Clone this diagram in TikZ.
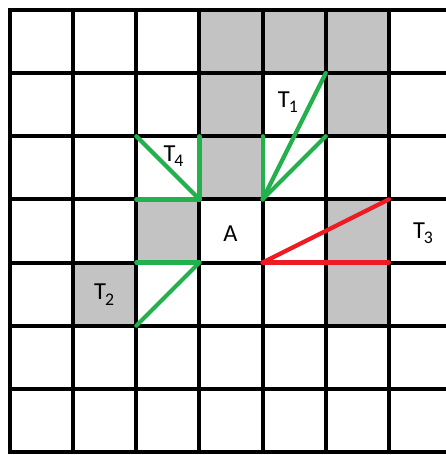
\documentclass[tikz,border=0pt]{standalone}
\usepackage{fontspec}
\setmainfont{Carlito}
\definecolor{cellGray} {HTML}{C3C3C3}
\definecolor{lineGreen}{HTML}{22B14C}
\definecolor{lineRed}  {HTML}{ED1C24}
\newcommand{\tname}[1]{T\kern-0.5pt\raisebox{-0.45ex}{\fontsize{8}{9}\selectfont #1}}
\tikzset{
  gridline/.style={draw=black,line width=1.8pt,line cap=rect},
  shadecell/.style={fill=cellGray,draw=none},
  greenray/.style={draw=lineGreen,line width=1.9pt,line cap=round},
  redray/.style={draw=lineRed,line width=1.9pt,line cap=round},
  lbl/.style={font=\fontsize{11}{13}\selectfont,inner sep=0pt,text=black},
}
\begin{document}
\begin{tikzpicture}[x=1cm,y=1cm]

\useasboundingbox (-0.159,-0.048) rectangle (6.889,7.158);
\fill[white] (-0.159,-0.048) rectangle (6.889,7.158);

\foreach \c/\r in {3/6,4/6,5/6,3/5,5/5,3/4,2/3,5/3,1/2,5/2}
  \fill[shadecell] (\c,\r) rectangle ++(1,1);

\foreach \r in {0,...,7}
  \draw[gridline] (0,\r) -- (7.2,\r);
\foreach \c in {0,...,6}
  \draw[gridline] (\c,0) -- (\c,7);

% apexes and ends
\coordinate (apex1) at (4,4);
\coordinate (end1a) at (5,6);
\coordinate (end1b) at (5,5);
\coordinate (end1c) at (4,5);
\coordinate (apex4) at (3,4);
\coordinate (end4a) at (2,5);
\coordinate (end4b) at (3,5);
\coordinate (end4c) at (2,4);
\coordinate (apex2) at (3,3);
\coordinate (end2a) at (2,3);
\coordinate (end2b) at (2,2);
\coordinate (apex3) at (4,3);
\coordinate (end3a) at (6,4);
\coordinate (end3b) at (6,3);

\draw[greenray] (apex1) -- (end1a);
\draw[greenray] (apex1) -- (end1b);
\draw[greenray] (apex1) -- (end1c);
\draw[greenray] (apex4) -- (end4a);
\draw[greenray] (apex4) -- (end4b);
\draw[greenray] (apex4) -- (end4c);
\draw[greenray] (apex2) -- (end2a);
\draw[greenray] (apex2) -- (end2b);
\draw[redray] (apex3) -- (end3a);
\draw[redray] (apex3) -- (end3b);

\node[lbl] (labA) at (3.49,3.45) {A};
\node[lbl] (labT1) at (4.40,5.54) {\tname{1}};
\node[lbl] (labT2) at (1.49,2.49) {\tname{2}};
\node[lbl] (labT3) at (6.54,3.47) {\tname{3}};
\node[lbl] (labT4) at (2.59,4.69) {\tname{4}};

\end{tikzpicture}
\end{document}
